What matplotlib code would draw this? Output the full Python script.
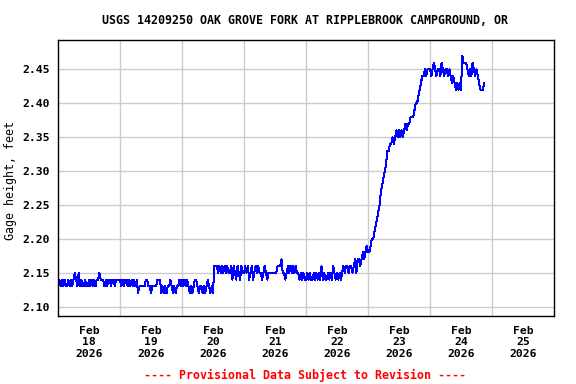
import matplotlib
matplotlib.use("Agg")
import matplotlib.pyplot as plt
import numpy as np
import pandas as pd

# gage height readings, hundredths of a foot above 2.00 ft, every 30 minutes
feb18 = [14, 14, 13, 14, 13, 14, 13, 13, 14, 13, 14, 13, 14, 15, 14, 13,
         15, 13, 14, 13, 13, 14, 13, 13, 14, 13, 14, 13, 14, 13, 14, 14,
         15, 14, 14, 14, 13, 14, 13, 14, 14, 13, 14, 14, 13, 14, 14, 14]
feb19 = [14, 13, 14, 13, 14, 14, 13, 14, 13, 14, 13, 14, 13, 14, 12, 13,
         13, 13, 13, 13, 14, 14, 13, 13, 12, 13, 13, 13, 13, 14, 14, 14,
         12, 13, 12, 13, 12, 13, 13, 14, 13, 12, 13, 12, 13, 13, 14, 13]
feb20 = [14, 13, 14, 13, 14, 13, 12, 13, 12, 13, 14, 14, 13, 12, 13, 13,
         12, 13, 12, 13, 14, 13, 12, 13, 12, 16, 16, 16, 15, 16, 15, 16,
         15, 16, 15, 16, 15, 15, 16, 14, 16, 15, 14, 16, 15, 14, 16, 15]
feb21 = [15, 16, 15, 16, 14, 15, 16, 14, 15, 16, 15, 16, 15, 15, 14, 15,
         16, 15, 14, 15, 15, 15, 15, 15, 15, 15, 16, 16, 16, 17, 15, 15,
         14, 15, 16, 15, 16, 15, 16, 15, 16, 15, 15, 14, 15, 14, 15, 14]
feb22 = [14, 15, 14, 15, 14, 14, 15, 14, 15, 14, 15, 14, 16, 14, 15, 14,
         14, 15, 14, 15, 14, 16, 15, 14, 15, 14, 15, 14, 15, 16, 15, 16,
         16, 15, 16, 16, 15, 16, 17, 15, 17, 17, 16, 17, 18, 17, 18, 19]
feb23 = [18, 18, 19, 20, 20, 21, 22, 23, 24, 25, 27, 28, 29, 30, 31, 33,
         33, 34, 34, 35, 34, 35, 36, 35, 36, 35, 36, 35, 36, 37, 36, 37,
         37, 38, 38, 38, 39, 40, 40, 41, 42, 43, 44, 44, 45, 44, 45, 45]
feb24 = [45, 44, 45, 46, 45, 44, 45, 45, 44, 46, 45, 44, 45, 45, 44, 45,
         44, 43, 44, 43, 42, 43, 42, 43, 42, 47, 46, 46, 46, 45, 44, 45,
         44, 46, 45, 44, 45, 44, 43, 42, 42, 42, 43]

day_ticks = ["2026-02-18", "2026-02-19", "2026-02-20", "2026-02-21",
             "2026-02-22", "2026-02-23", "2026-02-24", "2026-02-25"]
y_ticks = [2.10, 2.15, 2.20, 2.25, 2.30, 2.35, 2.40, 2.45]

title = "USGS 14209250 OAK GROVE FORK AT RIPPLEBROOK CAMPGROUND, OR"
footer = "---- Provisional Data Subject to Revision ----"


def main():
    hundredths = np.array(feb18 + feb19 + feb20 + feb21 + feb22 + feb23 + feb24)
    gage = 2.0 + hundredths / 100.0
    times = pd.date_range("2026-02-18 00:00", periods=len(gage), freq="30min")

    plt.rcParams["font.family"] = "DejaVu Sans Mono"
    plt.rcParams["font.weight"] = "bold"

    fig = plt.figure(figsize=(5.76, 3.84), dpi=100)
    ax = fig.add_axes([58 / 576, 68 / 384, 496 / 576, 276 / 384])

    ax.plot(times, gage, color="#0000ff", linewidth=0.72, antialiased=False)

    start = pd.Timestamp(day_ticks[0])
    ax.set_xlim(start, start + pd.Timedelta(days=8))
    ax.set_ylim(2.0863, 2.4932)

    noons = [pd.Timestamp(d) + pd.Timedelta(hours=12) for d in day_ticks]
    ax.set_xticks(noons)
    ax.set_xticklabels([pd.Timestamp(d).strftime("%b\n%d\n%Y") for d in day_ticks])
    midnights = [pd.Timestamp(d) for d in day_ticks[1:]]
    ax.set_xticks(midnights, minor=True)
    ax.set_yticks(y_ticks)
    ax.set_yticklabels([f"{v:.2f}" for v in y_ticks])

    ax.grid(True, which="minor", axis="x", color="#cccccc", linewidth=1.0)
    ax.grid(True, which="major", axis="y", color="#cccccc", linewidth=1.0)
    ax.set_axisbelow(True)
    ax.tick_params(axis="both", which="both", length=0, labelsize=8.2)
    ax.tick_params(axis="x", pad=7)
    ax.tick_params(axis="y", pad=6)
    for s in ax.spines.values():
        s.set_linewidth(1.0)
        s.set_color("black")

    ax.set_ylabel("Gage height, feet", fontsize=8.4)
    ax.yaxis.set_label_coords((17 - 58) / 496, 0.49)

    fig.text(305 / 576, 1 - 20 / 384, title, ha="center", va="center", fontsize=8.4)
    fig.text(305 / 576, 1 - 375 / 384, footer, ha="center", va="center",
             fontsize=8.4, color="#ff0000")

    fig.savefig("out.png", dpi=100)


if __name__ == "__main__":
    main()
